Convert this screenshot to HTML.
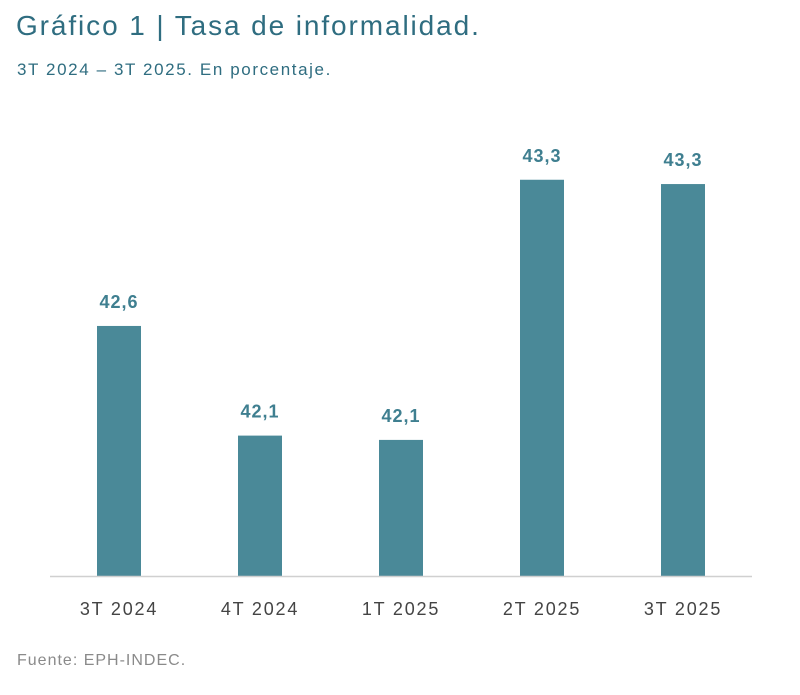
<!DOCTYPE html>
<html><head><meta charset="utf-8">
<style>
body{margin:0;width:800px;height:695px;background:#fff;font-family:"Liberation Sans",sans-serif;overflow:hidden}
#title{position:absolute;left:16px;top:10px;font-size:28px;color:#2f6d80;margin:0;font-weight:normal;letter-spacing:1.9px}
#sub{position:absolute;left:17px;top:60px;font-size:17px;color:#2f6d80;letter-spacing:1.6px}
#src{position:absolute;left:17px;top:652px;font-size:16px;color:#8a8a8a;letter-spacing:1px}
svg{position:absolute;left:0;top:0}
</style></head><body>
<h1 id="title">Gráfico 1 | Tasa de informalidad.</h1>
<div id="sub">3T 2024 – 3T 2025. En porcentaje.</div>
<svg id="chart" width="800" height="695"></svg>
<div id="src">Fuente: EPH-INDEC.</div>
<script>
const categories=["3T 2024","4T 2024","1T 2025","2T 2025","3T 2025"];
const values=[42.62,42.11,42.09,43.30,43.28];
const svg=document.getElementById('chart');
const NS="http://www.w3.org/2000/svg";
const base=576,minV=41.457,k=215;
const y=v=>base-(v-minV)*k;
const x=i=>119+i*141;
const bw=44;
function mk(t,a){const e=document.createElementNS(NS,t);for(const n in a)e.setAttribute(n,a[n]);svg.appendChild(e);return e;}
categories.forEach((c,i)=>{
  const r=mk('rect',{x:x(i)-bw/2,y:y(values[i]),width:bw,height:base-y(values[i]),fill:'#4a8998'});
  
  
  const l=mk('text',{x:x(i),y:y(values[i])-18,'text-anchor':'middle','font-size':'18','font-weight':'bold',fill:'#3f7f90','letter-spacing':'1'});
  l.textContent=values[i].toFixed(1).replace('.',',');
  
  
  const t=mk('text',{x:x(i),y:615,'text-anchor':'middle','font-size':'18',fill:'#444','letter-spacing':'1.8'});
  t.textContent=c;
  
  
});
const ax=mk('line',{x1:50,x2:752,y1:base+0.5,y2:base+0.5,stroke:'#d0d0d0','stroke-width':1.5});


</script>
</body></html>
